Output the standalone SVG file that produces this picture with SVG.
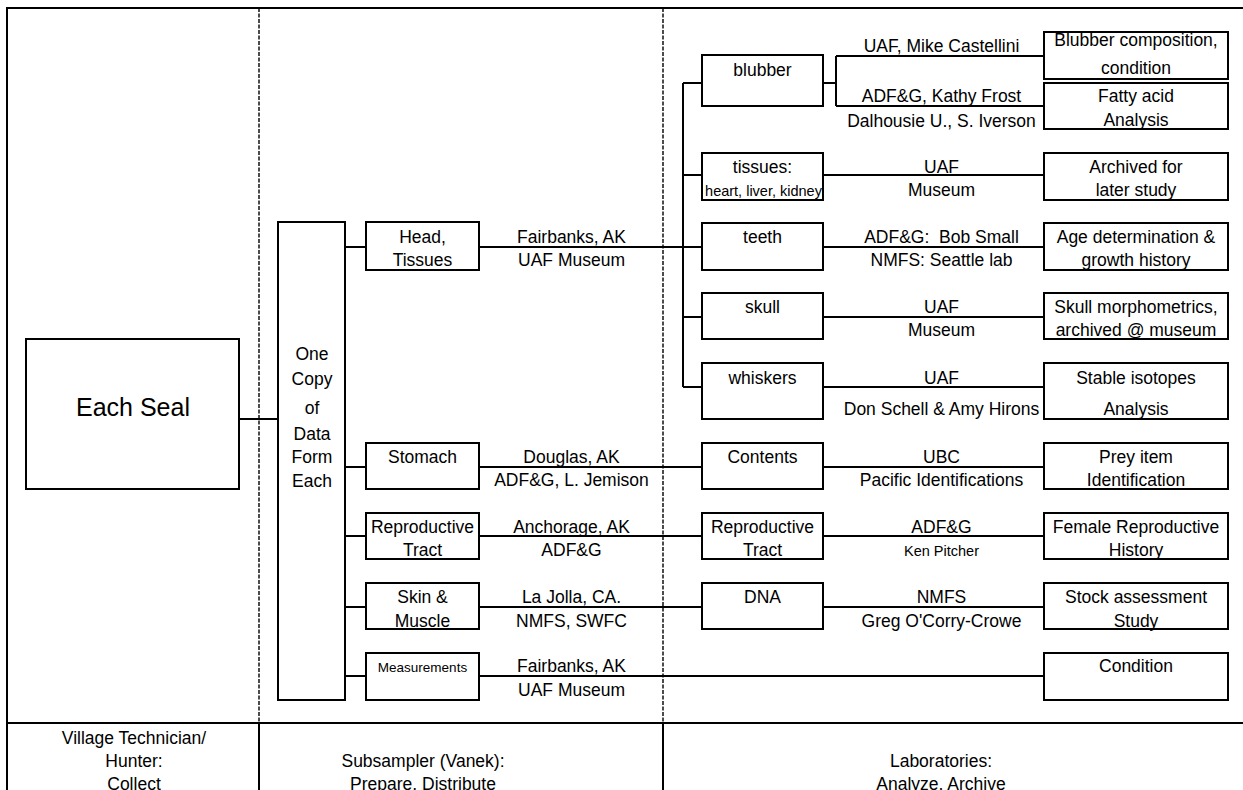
<svg xmlns="http://www.w3.org/2000/svg" width="1243" height="790" viewBox="0 0 1243 790">
<style>
.b{fill:#fff;stroke:#000;stroke-width:2}
.c{fill:none;stroke:#000;stroke-width:2}
.f{fill:none;stroke:#000;stroke-width:2}
.d{fill:none;stroke:#000;stroke-width:1.4;stroke-dasharray:4 1.5}
text{font-family:"Liberation Sans",Arial,sans-serif;font-size:17.5px;text-anchor:middle;fill:#000;white-space:pre}
.s{font-size:14.5px}
.m{font-size:13.5px}
.l{font-size:25px}
</style>
<rect width="1243" height="790" fill="#fff"/>
<g id="frame">
<path class="f" d="M7 790V8H1243M7 723H1243M259 723V790M663 723V790"/>
<path class="d" d="M259 8V723M663 8V723"/>
</g>
<g id="connectors">
<path class="c" d="M239 419H278M345 247H366M345 467H366M345 536H366M345 607H366M345 676H366"/>
<path class="c" d="M479 247H702M683 83V387M683 83H702M683 175H702M683 317H702M683 387H702"/>
<path class="c" d="M479 467H702M479 536H702M479 607H702M479 676H1044"/>
<path class="c" d="M823 83H836M836 56V106M836 56H1044M836 106H1044"/>
<path class="c" d="M823 175H1044M823 247H1044M823 317H1044M823 387H1044M823 467H1044M823 536H1044M823 607H1044"/>
</g>
<g id="labels">
<text x="571.5" y="243">Fairbanks, AK</text><text x="571.5" y="266">UAF Museum</text>
<text x="571.5" y="463">Douglas, AK</text><text x="571.5" y="486">ADF&amp;G, L. Jemison</text>
<text x="571.5" y="533">Anchorage, AK</text><text x="571.5" y="556">ADF&amp;G</text>
<text x="571.5" y="603">La Jolla, CA.</text><text x="571.5" y="627">NMFS, SWFC</text>
<text x="571.5" y="672">Fairbanks, AK</text><text x="571.5" y="696">UAF Museum</text>
<text x="941.5" y="51.5">UAF, Mike Castellini</text>
<text x="941.5" y="101.5">ADF&amp;G, Kathy Frost</text>
<text x="941.5" y="126.5">Dalhousie U., S. Iverson</text>
<text x="941.5" y="173">UAF</text><text x="941.5" y="196">Museum</text>
<text x="941.5" y="243">ADF&amp;G:  Bob Small</text><text x="941.5" y="266">NMFS: Seattle lab</text>
<text x="941.5" y="313">UAF</text><text x="941.5" y="336">Museum</text>
<text x="941.5" y="384">UAF</text><text x="941.5" y="415">Don Schell &amp; Amy Hirons</text>
<text x="941.5" y="463">UBC</text><text x="941.5" y="486">Pacific Identifications</text>
<text x="941.5" y="533">ADF&amp;G</text><text class="s" x="941.5" y="556">Ken Pitcher</text>
<text x="941.5" y="603">NMFS</text><text x="941.5" y="627">Greg O'Corry-Crowe</text>
</g>
<g id="lanes">
<text x="134" y="744">Village Technician/</text><text x="134" y="767">Hunter:</text><text x="134" y="790">Collect</text>
<text x="423" y="767">Subsampler (Vanek):</text><text x="423" y="790">Prepare, Distribute</text>
<text x="941" y="767">Laboratories:</text><text x="941" y="790">Analyze, Archive</text>
</g>
<g id="each-seal"><rect class="b" x="26" y="339" width="213" height="150"/><text class="l" x="133" y="416">Each Seal</text></g>
<g id="data-form"><rect class="b" x="278" y="222" width="67" height="478"/>
<text x="312" y="360">One</text><text x="312" y="385">Copy</text><text x="312" y="414">of</text><text x="312" y="440">Data</text><text x="312" y="463">Form</text><text x="312" y="487">Each</text></g>
<g id="head-tissues"><rect class="b" x="366" y="222" width="113" height="48"/><text x="422.5" y="243">Head,</text><text x="422.5" y="266">Tissues</text></g>
<g id="stomach"><rect class="b" x="366" y="443" width="113" height="46"/><text x="422.5" y="463">Stomach</text></g>
<g id="repro-tract"><rect class="b" x="366" y="513" width="113" height="46"/><text x="422.5" y="533">Reproductive</text><text x="422.5" y="556">Tract</text></g>
<g id="skin-muscle"><rect class="b" x="366" y="583" width="113" height="46"/><text x="422.5" y="603">Skin &amp;</text><text x="422.5" y="627">Muscle</text></g>
<g id="measurements"><rect class="b" x="366" y="653" width="113" height="47"/><text class="m" x="422.5" y="672">Measurements</text></g>
<g id="blubber"><rect class="b" x="702" y="55" width="121" height="51"/><text x="762.5" y="76">blubber</text></g>
<g id="tissues"><rect class="b" x="702" y="153" width="121" height="47"/><text x="762.5" y="173">tissues:</text><text class="s" x="763.5" y="196">heart, liver, kidney</text></g>
<g id="teeth"><rect class="b" x="702" y="223" width="121" height="47"/><text x="762.5" y="243">teeth</text></g>
<g id="skull"><rect class="b" x="702" y="293" width="121" height="46"/><text x="762.5" y="313">skull</text></g>
<g id="whiskers"><rect class="b" x="702" y="363" width="121" height="56"/><text x="762.5" y="384">whiskers</text></g>
<g id="contents"><rect class="b" x="702" y="443" width="121" height="46"/><text x="762.5" y="463">Contents</text></g>
<g id="repro-tract-2"><rect class="b" x="702" y="513" width="121" height="46"/><text x="762.5" y="533">Reproductive</text><text x="762.5" y="556">Tract</text></g>
<g id="dna"><rect class="b" x="702" y="583" width="121" height="46"/><text x="762.5" y="603">DNA</text></g>
<g id="r-blubber"><rect class="b" x="1044" y="32" width="184" height="47"/><text x="1136" y="46">Blubber composition,</text><text x="1136" y="74">condition</text></g>
<g id="r-fatty"><rect class="b" x="1044" y="83" width="184" height="46"/><text x="1136" y="101.5">Fatty acid</text><text x="1136" y="126">Analysis</text></g>
<g id="r-archived"><rect class="b" x="1044" y="153" width="184" height="47"/><text x="1136" y="173">Archived for</text><text x="1136" y="196">later study</text></g>
<g id="r-age"><rect class="b" x="1044" y="223" width="184" height="47"/><text x="1136" y="243">Age determination &amp;</text><text x="1136" y="266">growth history</text></g>
<g id="r-skull"><rect class="b" x="1044" y="293" width="184" height="46"/><text x="1136" y="313">Skull morphometrics,</text><text x="1136" y="336">archived @ museum</text></g>
<g id="r-isotopes"><rect class="b" x="1044" y="363" width="184" height="56"/><text x="1136" y="384">Stable isotopes</text><text x="1136" y="415">Analysis</text></g>
<g id="r-prey"><rect class="b" x="1044" y="443" width="184" height="46"/><text x="1136" y="463">Prey item</text><text x="1136" y="486">Identification</text></g>
<g id="r-female"><rect class="b" x="1044" y="513" width="184" height="46"/><text x="1136" y="533">Female Reproductive</text><text x="1136" y="556">History</text></g>
<g id="r-stock"><rect class="b" x="1044" y="583" width="184" height="46"/><text x="1136" y="603">Stock assessment</text><text x="1136" y="627">Study</text></g>
<g id="r-condition"><rect class="b" x="1044" y="653" width="184" height="47"/><text x="1136" y="672">Condition</text></g>
</svg>
